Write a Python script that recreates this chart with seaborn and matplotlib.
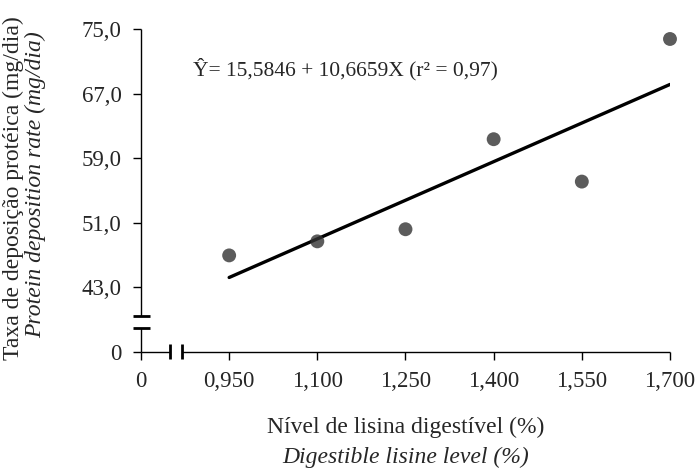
import numpy as np
import pandas as pd
import matplotlib
matplotlib.use("Agg")
import matplotlib.pyplot as plt
import seaborn as sns

# lysine level (%) and protein deposition rate (mg/dia)
lisina = [0.950, 1.100, 1.250, 1.400, 1.550, 1.700]
deposicao = [46.96, 48.7, 50.2, 61.35, 56.1, 73.76]

xticks = [0.80, 0.95, 1.10, 1.25, 1.40, 1.55, 1.70]
xticklabels = ["0", "0,950", "1,100", "1,250", "1,400", "1,550", "1,700"]
yticks = [35, 43, 51, 59, 67, 75]
yticklabels = ["0", "43,0", "51,0", "59,0", "67,0", "75,0"]

equacao = "Ŷ= 15,5846 + 10,6659X (r² = 0,97)"

sns.set_style("ticks")
plt.rcParams["font.family"] = ["Liberation Serif", "DejaVu Serif"]

df = pd.DataFrame({"x": lisina, "y": deposicao})

fig = plt.figure(figsize=(6.99, 4.75), dpi=100)
ax = fig.add_axes([0.2017, 0.259, 0.7568, 0.680])

sns.regplot(data=df, x="x", y="y", ci=None, ax=ax,
            scatter_kws=dict(s=100, color="#333333", edgecolor="none", clip_on=False, zorder=3),
            line_kws=dict(color="black", lw=2.4))

ax.set_xlim(0.80, 1.70)
ax.set_ylim(35, 75)
ax.set_xticks(xticks)
ax.set_xticklabels(xticklabels)
ax.set_yticks(yticks)
ax.set_yticklabels(yticklabels)
ax.tick_params(direction="out", length=6, width=1, labelsize=16.5, color="black", pad=8)
ax.set_xlabel("")
ax.set_ylabel("")

# axis lines with breaks
for s in ["left", "bottom", "top", "right"]:
    ax.spines[s].set_visible(False)
kw = dict(color="black", lw=1, clip_on=False, solid_capstyle="butt")
ax.plot([0.80, 0.80], [35, 38.0], **kw)
ax.plot([0.80, 0.80], [39.5, 75], **kw)
ax.plot([0.80, 0.85], [35, 35], **kw)
ax.plot([0.87, 1.70], [35, 35], **kw)
# break marks
bk = dict(color="black", lw=2, clip_on=False, solid_capstyle="butt")
ax.plot([0.786, 0.815], [38.0, 38.0], **bk)
ax.plot([0.786, 0.815], [39.5, 39.5], **bk)
ax.plot([0.85, 0.85], [34.1, 36.0], **bk)
ax.plot([0.87, 0.87], [34.1, 36.0], **bk)

ax.text(0.888, 70.0, equacao, fontsize=15.5, ha="left", va="center")

fig.text(0.019, 0.604, "Taxa de deposição protéica (mg/dia)", rotation=90,
         fontsize=17, ha="center", va="center")
fig.text(0.051, 0.612, "Protein deposition rate (mg/dia)", rotation=90,
         fontsize=17, ha="center", va="center", style="italic")
fig.text(0.581, 0.100, "Nível de lisina digestível (%)", fontsize=17, ha="center", va="center")
fig.text(0.581, 0.038, "Digestible lisine level (%)", fontsize=17, ha="center", va="center",
         style="italic")

fig.savefig("out.png", dpi=100)
